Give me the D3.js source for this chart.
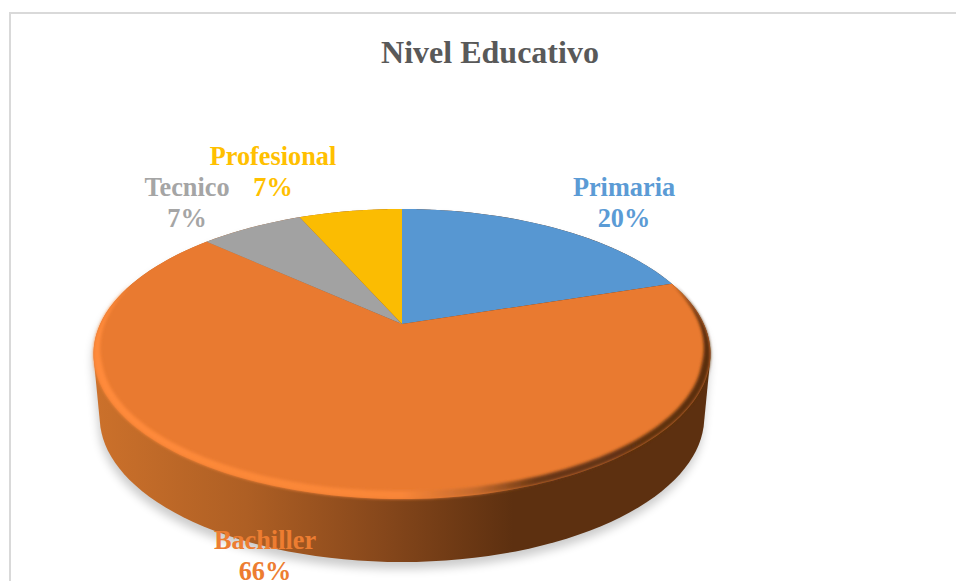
<!DOCTYPE html>
<html><head><meta charset="utf-8">
<script src="https://cdn.jsdelivr.net/npm/d3@7"></script>
<style>html,body{margin:0;padding:0;background:#fff;overflow:hidden}svg{display:block}text{font-family:"Liberation Serif",serif;font-weight:bold;text-anchor:middle}</style>
</head><body><svg id="c" width="956" height="581"></svg>
<script>
const title = "Nivel Educativo";
const categories = ["Primaria","Bachiller","Tecnico","Profesional"];
const values = [20,66.8,6.6,6.6];
const pctLabels = ["20%","66%","7%","7%"];
const colors = ["#5b9bd5","#ed7d31","#a5a5a5","#ffc000"];
const fills = ["#5797d2","#e97a30","#a2a2a2","#fbbc02"];
const labelPos = [[624,196],[265,549],[187,196],[273,165]];

const svg = d3.select("#c");
const cx=402, cy=324, a=71.8, k=-0.2069, c=301.8, depth=63, bottomScale=0.98;
const proj = (t)=>{const u=Math.sin(t),v=-Math.cos(t),d=1+k*v;return [cx+c*u/d,(a*v+cy)/d];};
const projLow = (t)=>{const p=proj(t);return [cx+(p[0]-cx)*bottomScale,p[1]+depth];};
const line=d3.line();
const samples=(t0,t1,f=proj)=>d3.range(0,161).map(i=>f(t0+(t1-t0)*i/160));
const arcs=d3.pie().sort(null)(values);
const full=samples(0,2*Math.PI), fullLow=samples(0,2*Math.PI,projLow);
const hull=d3.polygonHull(full.concat(fullLow));

const defs=svg.append("defs");
const blur=(id,s)=>defs.append("filter").attr("id",id).attr("x","-20%").attr("y","-20%").attr("width","140%").attr("height","140%").append("feGaussianBlur").attr("stdDeviation",s);
blur("sh",5); blur("rb",1.5);
const grad=(id,stops)=>{const g=defs.append("linearGradient").attr("id",id).attr("gradientUnits","userSpaceOnUse").attr("x1",93).attr("x2",710).attr("y1",0).attr("y2",0);
 stops.forEach(s=>g.append("stop").attr("offset",s[0]).attr("stop-color",s[1]));};
grad("wall",[[0,"#cc712b"],[0.25,"#ae5f24"],[0.47,"#86471b"],[0.68,"#5d3010"],[1,"#5d3010"]]);
grad("rim",[[0,"#ff8a3a"],[0.5,"#f98638"],[0.62,"#c56a2c"],[0.72,"#6a3713"],[1,"#5a2e10"]]);

// chart frame
svg.append("path").attr("d","M10,581V13H956").attr("fill","none").attr("stroke","#d9d9d9").attr("stroke-width",2);

// shadow + side wall
svg.append("path").attr("d",line(hull)+"Z").attr("transform","translate(-1,7)").attr("fill","#000").attr("opacity",0.2).attr("filter","url(#sh)");
svg.append("path").attr("d",line(hull)+"Z").attr("fill","url(#wall)");

// top face slices
svg.selectAll("path.slice").data(arcs).join("path").attr("class","slice")
 .attr("d",d=>line([[cx,cy]].concat(samples(d.startAngle,d.endAngle)))+"Z")
 .attr("fill",(d,i)=>fills[i]);

// bevel: tapered crescent along the front of the large slice
const t0=arcs[1].startAngle, t1=Math.PI*1.6, ecy=(proj(0)[1]+proj(Math.PI)[1])/2;
const outer=samples(t0,t1);
const inner=outer.map((p,i)=>{
  const t=t0+(t1-t0)*i/160, w=8*Math.min(1,(t-t0)/0.6,(t1-t)/0.6);
  const dx=p[0]-cx, dy=p[1]-ecy, n=Math.hypot(dx/308,dy/145)||1;
  return [cx+dx*(1-w/308/n*1), ecy+dy*(1-w/145/n*1)];
}).reverse();
svg.append("path").attr("d",line(outer.concat(inner))+"Z").attr("fill","url(#rim)").attr("filter","url(#rb)");

// labels
svg.append("text").attr("x",490).attr("y",63).attr("font-size",32).attr("fill","#595959").text(title);
categories.forEach((n,i)=>{
 const [x,y]=labelPos[i];
 const t=svg.append("text").attr("font-size",26.3).attr("fill",colors[i]);
 t.append("tspan").attr("x",x).attr("y",y).text(n);
 t.append("tspan").attr("x",x).attr("y",y+31).text(pctLabels[i]);
});
</script></body></html>
